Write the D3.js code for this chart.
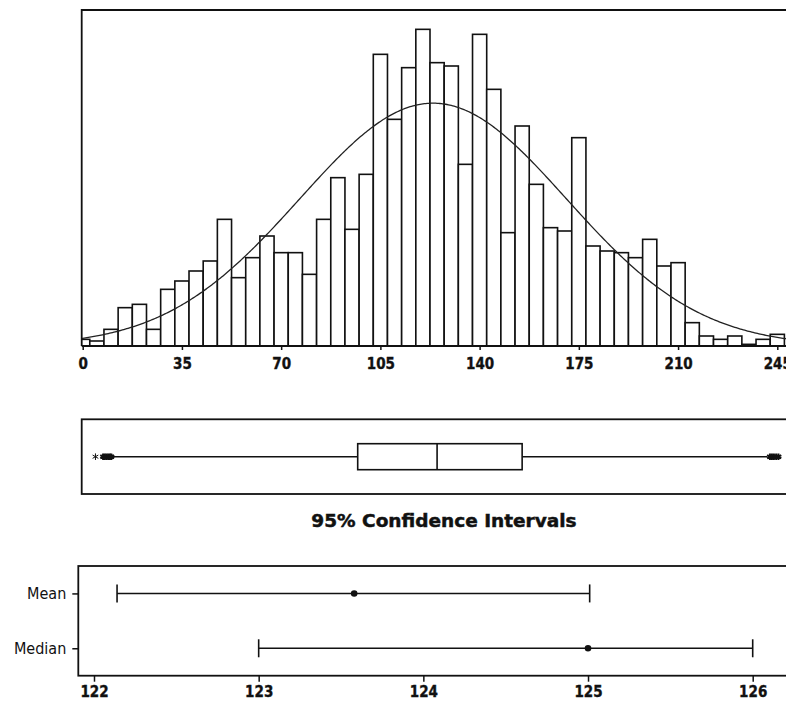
<!DOCTYPE html>
<html>
<head>
<meta charset="utf-8">
<script src="https://cdn.jsdelivr.net/npm/d3@7"></script>
<style>
  body { margin: 0; background: #fff; }
  svg text { font-family: "DejaVu Sans Condensed", "DejaVu Sans", sans-serif; font-stretch: condensed; fill: #111; }
  .tick-bold text { font-weight: bold; font-size: 15px; stroke: #111; stroke-width: 0.35px; }
  .title { font-family: "DejaVu Sans", sans-serif; font-stretch: normal; font-weight: bold; font-size: 18.5px; stroke: #111; stroke-width: 0.5px; }
</style>
</head>
<body>
<div id="chart"></div>
<script>
// ---- data ----
const binCenters = d3.range(0, 250, 5);          // 0, 5, ..., 245 (bin width 5)
const binCounts = [
   4,  3, 10, 23, 25, 10, 34, 39, 45, 51,
  76, 41, 53, 66, 56, 56, 43, 76,101, 70,
 103,175,136,167,190,170,168,109,187,154,
  68,132, 97, 71, 69,125, 60, 57, 56, 53,
  64, 48, 50, 14,  6,  4,  6,  1,  4,  7
];
const histTicks = [0, 35, 70, 105, 140, 175, 210, 245];
const fitMean = 123.58;
const fitStdDev = 47;

// box plot summary
const boxStats = { q1: 97, median: 125, q3: 155, lowWhisker: 10.5, highWhisker: 241.5 };
const lowOutliers  = [4.5, 7.2, 7.8, 8.4, 9.0, 9.6, 10.1];
const highOutliers = [242.4, 243.1, 243.8, 244.6, 245.4];

// confidence intervals
const ciLabels = ['Mean', 'Median'];
const ciCenters = [123.58, 125.0];
const ciLower   = [122.14, 123.0];
const ciUpper   = [125.01, 126.0];
const ciTicks   = [122, 123, 124, 125, 126];

const W = 786, H = 702;
const svg = d3.select('#chart').append('svg')
  .attr('width', W).attr('height', H);

// ===== histogram =====
const hist = { left: 81.7, top: 10, bottom: 346, right: 792 };
const x = d3.scaleLinear().domain([0, 245]).range([82.7, 777.3]);
const y = d3.scaleLinear().domain([0, 201.6]).range([hist.bottom, hist.top]);

svg.append('clipPath').attr('id', 'histClip')
  .append('rect')
  .attr('x', hist.left).attr('y', hist.top)
  .attr('width', hist.right - hist.left).attr('height', hist.bottom - hist.top);

const gHist = svg.append('g').attr('clip-path', 'url(#histClip)');

gHist.selectAll('rect.bar')
  .data(binCenters.map((c, i) => ({ c, n: binCounts[i] })))
  .join('rect')
    .attr('class', 'bar')
    .attr('x', d => x(d.c - 2.5))
    .attr('width', d => x(d.c + 2.5) - x(d.c - 2.5))
    .attr('y', d => y(d.n))
    .attr('height', d => y(0) - y(d.n))
    .attr('fill', '#fff')
    .attr('stroke', '#111')
    .attr('stroke-width', 1.6);

// fitted normal curve
const total = d3.sum(binCounts);
const pdf = v => Math.exp(-0.5 * ((v - fitMean) / fitStdDev) ** 2) / (fitStdDev * Math.sqrt(2 * Math.PI));
const curvePts = d3.range(-3, 252, 0.5).map(v => [v, total * 5 * pdf(v)]);
gHist.append('path')
  .datum(curvePts)
  .attr('fill', 'none')
  .attr('stroke', '#222')
  .attr('stroke-width', 1.3)
  .attr('d', d3.line().x(d => x(d[0])).y(d => y(d[1])));

// frame (left + top) and baseline
svg.append('path')
  .attr('d', `M${hist.left},${hist.bottom}V${hist.top}H${hist.right}`)
  .attr('fill', 'none').attr('stroke', '#111').attr('stroke-width', 1.8);

const xAxis = svg.append('g')
  .attr('class', 'tick-bold')
  .attr('transform', `translate(0,${hist.bottom})`)
  .call(d3.axisBottom(x).tickValues(histTicks).tickSize(4).tickPadding(8));
xAxis.select('.domain').remove();
svg.append('line')
  .attr('x1', hist.left).attr('x2', hist.right)
  .attr('y1', hist.bottom).attr('y2', hist.bottom)
  .attr('stroke', '#111').attr('stroke-width', 1.8);
xAxis.selectAll('.tick line').attr('stroke', '#111').attr('stroke-width', 1.5);

// ===== box plot =====
const box = { left: 81.7, top: 419.3, bottom: 494, right: 792, cy: 456.7, half: 13 };
svg.append('rect')
  .attr('x', box.left).attr('y', box.top)
  .attr('width', box.right - box.left).attr('height', box.bottom - box.top)
  .attr('fill', 'none').attr('stroke', '#111').attr('stroke-width', 1.8);

const gBox = svg.append('g').attr('stroke', '#111').attr('stroke-width', 1.6).attr('fill', 'none');
gBox.append('line')
  .attr('x1', x(boxStats.lowWhisker)).attr('x2', x(boxStats.q1))
  .attr('y1', box.cy).attr('y2', box.cy);
gBox.append('line')
  .attr('x1', x(boxStats.q3)).attr('x2', x(boxStats.highWhisker))
  .attr('y1', box.cy).attr('y2', box.cy);
gBox.append('rect')
  .attr('x', x(boxStats.q1)).attr('width', x(boxStats.q3) - x(boxStats.q1))
  .attr('y', box.cy - box.half).attr('height', box.half * 2)
  .attr('fill', '#fff');
gBox.append('line')
  .attr('x1', x(boxStats.median)).attr('x2', x(boxStats.median))
  .attr('y1', box.cy - box.half).attr('y2', box.cy + box.half);

const asterisk = d3.symbol().type(d3.symbolAsterisk).size(30);
svg.append('g').selectAll('path')
  .data(lowOutliers.concat(highOutliers))
  .join('path')
    .attr('transform', d => `translate(${x(d)},${box.cy})`)
    .attr('d', asterisk)
    .attr('fill', 'none')
    .attr('stroke', '#111')
    .attr('stroke-width', (d, i) => i === 0 ? 1 : 2);

// ===== CI plot =====
svg.append('text')
  .attr('class', 'title')
  .attr('x', 444).attr('y', 527)
  .attr('text-anchor', 'middle')
  .text('95% Confidence Intervals');

const ci = { left: 78.3, top: 566, bottom: 675.7, right: 792 };
const xc = d3.scaleLinear().domain([122, 126]).range([94, 752.7]);
const yc = d3.scalePoint().domain(ciLabels).range([ci.top, ci.bottom]).padding(0.5);

svg.append('rect')
  .attr('x', ci.left).attr('y', ci.top)
  .attr('width', ci.right - ci.left).attr('height', ci.bottom - ci.top)
  .attr('fill', 'none').attr('stroke', '#111').attr('stroke-width', 1.8);

const ciX = svg.append('g')
  .attr('class', 'tick-bold')
  .attr('transform', `translate(0,${ci.bottom})`)
  .call(d3.axisBottom(xc).tickValues(ciTicks).tickFormat(d3.format('d')).tickSize(6).tickPadding(5));
ciX.select('.domain').remove();
ciX.selectAll('.tick line').attr('stroke', '#111').attr('stroke-width', 1.5);

const ciY = svg.append('g')
  .attr('transform', `translate(${ci.left},0)`)
  .call(d3.axisLeft(yc).tickSize(6).tickPadding(6));
ciY.select('.domain').remove();
ciY.selectAll('.tick line').attr('stroke', '#111').attr('stroke-width', 1.5);
ciY.selectAll('.tick text').style('font-size', '16px');

const ciRows = ciLabels.map((k, i) => ({ k, c: ciCenters[i], lo: ciLower[i], hi: ciUpper[i] }));
const gCI = svg.append('g').selectAll('g').data(ciRows).join('g')
  .attr('stroke', '#111').attr('stroke-width', 1.6);
gCI.append('line')
  .attr('x1', d => xc(d.lo)).attr('x2', d => xc(d.hi))
  .attr('y1', d => yc(d.k)).attr('y2', d => yc(d.k));
gCI.append('line')
  .attr('x1', d => xc(d.lo)).attr('x2', d => xc(d.lo))
  .attr('y1', d => yc(d.k) - 9).attr('y2', d => yc(d.k) + 9);
gCI.append('line')
  .attr('x1', d => xc(d.hi)).attr('x2', d => xc(d.hi))
  .attr('y1', d => yc(d.k) - 9).attr('y2', d => yc(d.k) + 9);
gCI.append('circle')
  .attr('cx', d => xc(d.c)).attr('cy', d => yc(d.k))
  .attr('r', 3.3).attr('fill', '#111').attr('stroke', 'none');
</script>
</body>
</html>
